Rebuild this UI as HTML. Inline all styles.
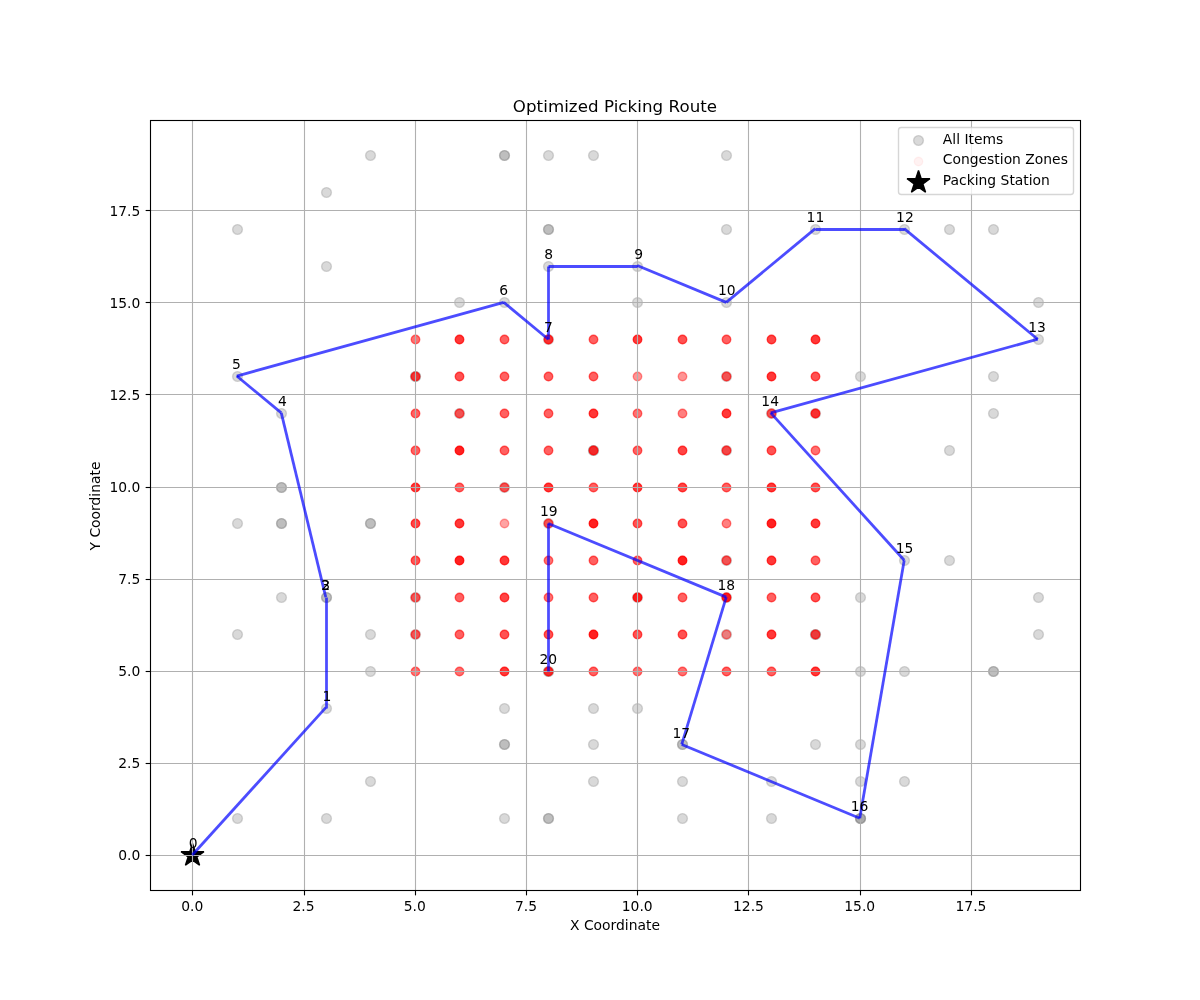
<!DOCTYPE html>
<html lang="en"><head><meta charset="utf-8"><title>Optimized Picking Route</title>
<style>html,body{margin:0;padding:0;background:#fff}svg{display:block}text{font-family:"DejaVu Sans","Liberation Sans",sans-serif;fill:#000}.t10{font-size:13.889px}.t12{font-size:16.667px}.g circle{fill:#808080;fill-opacity:.3;stroke:#808080;stroke-opacity:.3;stroke-width:1.389}.r circle{fill:#f00;stroke:#f00;stroke-width:1.389}.grid path{stroke:#b0b0b0;stroke-width:1.111;fill:none}.tk path{stroke:#000;stroke-width:1.111;fill:none}.mid{text-anchor:middle}.end{text-anchor:end}</style></head><body>
<svg width="1200" height="1000" viewBox="0 0 1200 1000">
<rect width="1200" height="1000" fill="#fff"/>
<defs><clipPath id="ax"><rect x="150" y="120" width="930" height="770"/></clipPath></defs>
<g clip-path="url(#ax)">
<g class="g">
<circle cx="370.5" cy="155.5" r="4.91"/>
<circle cx="504.5" cy="155.5" r="4.91"/>
<circle cx="504.5" cy="155.5" r="4.91"/>
<circle cx="548.5" cy="155.5" r="4.91"/>
<circle cx="593.5" cy="155.5" r="4.91"/>
<circle cx="726.5" cy="155.5" r="4.91"/>
<circle cx="326.5" cy="192.5" r="4.91"/>
<circle cx="237.5" cy="229.5" r="4.91"/>
<circle cx="548.5" cy="229.5" r="4.91"/>
<circle cx="548.5" cy="229.5" r="4.91"/>
<circle cx="726.5" cy="229.5" r="4.91"/>
<circle cx="815.5" cy="229.5" r="4.91"/>
<circle cx="904.5" cy="229.5" r="4.91"/>
<circle cx="949.5" cy="229.5" r="4.91"/>
<circle cx="993.5" cy="229.5" r="4.91"/>
<circle cx="326.5" cy="266.5" r="4.91"/>
<circle cx="548.5" cy="266.5" r="4.91"/>
<circle cx="637.5" cy="266.5" r="4.91"/>
<circle cx="459.5" cy="302.5" r="4.91"/>
<circle cx="504.5" cy="302.5" r="4.91"/>
<circle cx="637.5" cy="302.5" r="4.91"/>
<circle cx="726.5" cy="302.5" r="4.91"/>
<circle cx="1038.5" cy="302.5" r="4.91"/>
<circle cx="1038.5" cy="339.5" r="4.91"/>
<circle cx="237.5" cy="376.5" r="4.91"/>
<circle cx="860.5" cy="376.5" r="4.91"/>
<circle cx="993.5" cy="376.5" r="4.91"/>
<circle cx="281.5" cy="413.5" r="4.91"/>
<circle cx="993.5" cy="413.5" r="4.91"/>
<circle cx="949.5" cy="450.5" r="4.91"/>
<circle cx="281.5" cy="487.5" r="4.91"/>
<circle cx="281.5" cy="487.5" r="4.91"/>
<circle cx="237.5" cy="523.5" r="4.91"/>
<circle cx="281.5" cy="523.5" r="4.91"/>
<circle cx="281.5" cy="523.5" r="4.91"/>
<circle cx="370.5" cy="523.5" r="4.91"/>
<circle cx="370.5" cy="523.5" r="4.91"/>
<circle cx="904.5" cy="560.5" r="4.91"/>
<circle cx="949.5" cy="560.5" r="4.91"/>
<circle cx="281.5" cy="597.5" r="4.91"/>
<circle cx="326.5" cy="597.5" r="4.91"/>
<circle cx="326.5" cy="597.5" r="4.91"/>
<circle cx="860.5" cy="597.5" r="4.91"/>
<circle cx="1038.5" cy="597.5" r="4.91"/>
<circle cx="237.5" cy="634.5" r="4.91"/>
<circle cx="370.5" cy="634.5" r="4.91"/>
<circle cx="1038.5" cy="634.5" r="4.91"/>
<circle cx="370.5" cy="671.5" r="4.91"/>
<circle cx="860.5" cy="671.5" r="4.91"/>
<circle cx="904.5" cy="671.5" r="4.91"/>
<circle cx="993.5" cy="671.5" r="4.91"/>
<circle cx="993.5" cy="671.5" r="4.91"/>
<circle cx="326.5" cy="708.5" r="4.91"/>
<circle cx="504.5" cy="708.5" r="4.91"/>
<circle cx="593.5" cy="708.5" r="4.91"/>
<circle cx="637.5" cy="708.5" r="4.91"/>
<circle cx="504.5" cy="744.5" r="4.91"/>
<circle cx="504.5" cy="744.5" r="4.91"/>
<circle cx="593.5" cy="744.5" r="4.91"/>
<circle cx="682.5" cy="744.5" r="4.91"/>
<circle cx="682.5" cy="744.5" r="4.91"/>
<circle cx="815.5" cy="744.5" r="4.91"/>
<circle cx="860.5" cy="744.5" r="4.91"/>
<circle cx="370.5" cy="781.5" r="4.91"/>
<circle cx="593.5" cy="781.5" r="4.91"/>
<circle cx="682.5" cy="781.5" r="4.91"/>
<circle cx="771.5" cy="781.5" r="4.91"/>
<circle cx="860.5" cy="781.5" r="4.91"/>
<circle cx="904.5" cy="781.5" r="4.91"/>
<circle cx="237.5" cy="818.5" r="4.91"/>
<circle cx="326.5" cy="818.5" r="4.91"/>
<circle cx="504.5" cy="818.5" r="4.91"/>
<circle cx="548.5" cy="818.5" r="4.91"/>
<circle cx="548.5" cy="818.5" r="4.91"/>
<circle cx="682.5" cy="818.5" r="4.91"/>
<circle cx="771.5" cy="818.5" r="4.91"/>
<circle cx="860.5" cy="818.5" r="4.91"/>
<circle cx="860.5" cy="818.5" r="4.91"/>
<circle cx="860.5" cy="818.5" r="4.91"/>
<circle cx="815.5" cy="634.5" r="4.91"/>
<circle cx="548.5" cy="671.5" r="4.91"/>
<circle cx="593.5" cy="450.5" r="4.91"/>
<circle cx="415.5" cy="376.5" r="4.91"/>
<circle cx="548.5" cy="339.5" r="4.91"/>
<circle cx="415.5" cy="376.5" r="4.91"/>
<circle cx="726.5" cy="376.5" r="4.91"/>
<circle cx="459.5" cy="413.5" r="4.91"/>
<circle cx="771.5" cy="413.5" r="4.91"/>
<circle cx="815.5" cy="413.5" r="4.91"/>
<circle cx="593.5" cy="450.5" r="4.91"/>
<circle cx="726.5" cy="450.5" r="4.91"/>
<circle cx="504.5" cy="487.5" r="4.91"/>
<circle cx="548.5" cy="523.5" r="4.91"/>
<circle cx="726.5" cy="560.5" r="4.91"/>
<circle cx="415.5" cy="597.5" r="4.91"/>
<circle cx="637.5" cy="597.5" r="4.91"/>
<circle cx="726.5" cy="597.5" r="4.91"/>
<circle cx="415.5" cy="634.5" r="4.91"/>
<circle cx="726.5" cy="634.5" r="4.91"/>
<circle cx="815.5" cy="634.5" r="4.91"/>
<circle cx="548.5" cy="671.5" r="4.91"/>
</g>
<g class="r">
<circle cx="415.5" cy="339.5" r="4.22" fill-opacity="0.56" stroke-opacity="0.56"/>
<circle cx="459.5" cy="339.5" r="4.22" fill-opacity="0.78" stroke-opacity="0.78"/>
<circle cx="504.5" cy="339.5" r="4.22" fill-opacity="0.62" stroke-opacity="0.62"/>
<circle cx="548.5" cy="339.5" r="4.22" fill-opacity="0.78" stroke-opacity="0.78"/>
<circle cx="593.5" cy="339.5" r="4.22" fill-opacity="0.62" stroke-opacity="0.62"/>
<circle cx="637.5" cy="339.5" r="4.22" fill-opacity="0.78" stroke-opacity="0.78"/>
<circle cx="682.5" cy="339.5" r="4.22" fill-opacity="0.68" stroke-opacity="0.68"/>
<circle cx="726.5" cy="339.5" r="4.22" fill-opacity="0.62" stroke-opacity="0.62"/>
<circle cx="771.5" cy="339.5" r="4.22" fill-opacity="0.73" stroke-opacity="0.73"/>
<circle cx="815.5" cy="339.5" r="4.22" fill-opacity="0.78" stroke-opacity="0.78"/>
<circle cx="415.5" cy="376.5" r="4.22" fill-opacity="0.73" stroke-opacity="0.73"/>
<circle cx="459.5" cy="376.5" r="4.22" fill-opacity="0.68" stroke-opacity="0.68"/>
<circle cx="504.5" cy="376.5" r="4.22" fill-opacity="0.62" stroke-opacity="0.62"/>
<circle cx="548.5" cy="376.5" r="4.22" fill-opacity="0.62" stroke-opacity="0.62"/>
<circle cx="593.5" cy="376.5" r="4.22" fill-opacity="0.62" stroke-opacity="0.62"/>
<circle cx="637.5" cy="376.5" r="4.22" fill-opacity="0.42" stroke-opacity="0.42"/>
<circle cx="682.5" cy="376.5" r="4.22" fill-opacity="0.42" stroke-opacity="0.42"/>
<circle cx="726.5" cy="376.5" r="4.22" fill-opacity="0.62" stroke-opacity="0.62"/>
<circle cx="771.5" cy="376.5" r="4.22" fill-opacity="0.78" stroke-opacity="0.78"/>
<circle cx="815.5" cy="376.5" r="4.22" fill-opacity="0.68" stroke-opacity="0.68"/>
<circle cx="415.5" cy="413.5" r="4.22" fill-opacity="0.62" stroke-opacity="0.62"/>
<circle cx="459.5" cy="413.5" r="4.22" fill-opacity="0.62" stroke-opacity="0.62"/>
<circle cx="504.5" cy="413.5" r="4.22" fill-opacity="0.62" stroke-opacity="0.62"/>
<circle cx="548.5" cy="413.5" r="4.22" fill-opacity="0.62" stroke-opacity="0.62"/>
<circle cx="593.5" cy="413.5" r="4.22" fill-opacity="0.78" stroke-opacity="0.78"/>
<circle cx="637.5" cy="413.5" r="4.22" fill-opacity="0.56" stroke-opacity="0.56"/>
<circle cx="682.5" cy="413.5" r="4.22" fill-opacity="0.5" stroke-opacity="0.5"/>
<circle cx="726.5" cy="413.5" r="4.22" fill-opacity="0.78" stroke-opacity="0.78"/>
<circle cx="771.5" cy="413.5" r="4.22" fill-opacity="0.62" stroke-opacity="0.62"/>
<circle cx="815.5" cy="413.5" r="4.22" fill-opacity="0.78" stroke-opacity="0.78"/>
<circle cx="415.5" cy="450.5" r="4.22" fill-opacity="0.62" stroke-opacity="0.62"/>
<circle cx="459.5" cy="450.5" r="4.22" fill-opacity="0.87" stroke-opacity="0.87"/>
<circle cx="504.5" cy="450.5" r="4.22" fill-opacity="0.62" stroke-opacity="0.62"/>
<circle cx="548.5" cy="450.5" r="4.22" fill-opacity="0.62" stroke-opacity="0.62"/>
<circle cx="593.5" cy="450.5" r="4.22" fill-opacity="0.78" stroke-opacity="0.78"/>
<circle cx="637.5" cy="450.5" r="4.22" fill-opacity="0.62" stroke-opacity="0.62"/>
<circle cx="682.5" cy="450.5" r="4.22" fill-opacity="0.73" stroke-opacity="0.73"/>
<circle cx="726.5" cy="450.5" r="4.22" fill-opacity="0.68" stroke-opacity="0.68"/>
<circle cx="771.5" cy="450.5" r="4.22" fill-opacity="0.68" stroke-opacity="0.68"/>
<circle cx="815.5" cy="450.5" r="4.22" fill-opacity="0.56" stroke-opacity="0.56"/>
<circle cx="415.5" cy="487.5" r="4.22" fill-opacity="0.78" stroke-opacity="0.78"/>
<circle cx="459.5" cy="487.5" r="4.22" fill-opacity="0.62" stroke-opacity="0.62"/>
<circle cx="504.5" cy="487.5" r="4.22" fill-opacity="0.62" stroke-opacity="0.62"/>
<circle cx="548.5" cy="487.5" r="4.22" fill-opacity="0.78" stroke-opacity="0.78"/>
<circle cx="593.5" cy="487.5" r="4.22" fill-opacity="0.62" stroke-opacity="0.62"/>
<circle cx="637.5" cy="487.5" r="4.22" fill-opacity="0.78" stroke-opacity="0.78"/>
<circle cx="682.5" cy="487.5" r="4.22" fill-opacity="0.73" stroke-opacity="0.73"/>
<circle cx="726.5" cy="487.5" r="4.22" fill-opacity="0.62" stroke-opacity="0.62"/>
<circle cx="771.5" cy="487.5" r="4.22" fill-opacity="0.78" stroke-opacity="0.78"/>
<circle cx="815.5" cy="487.5" r="4.22" fill-opacity="0.68" stroke-opacity="0.68"/>
<circle cx="415.5" cy="523.5" r="4.22" fill-opacity="0.73" stroke-opacity="0.73"/>
<circle cx="459.5" cy="523.5" r="4.22" fill-opacity="0.78" stroke-opacity="0.78"/>
<circle cx="504.5" cy="523.5" r="4.22" fill-opacity="0.36" stroke-opacity="0.36"/>
<circle cx="548.5" cy="523.5" r="4.22" fill-opacity="0.62" stroke-opacity="0.62"/>
<circle cx="593.5" cy="523.5" r="4.22" fill-opacity="0.87" stroke-opacity="0.87"/>
<circle cx="637.5" cy="523.5" r="4.22" fill-opacity="0.68" stroke-opacity="0.68"/>
<circle cx="682.5" cy="523.5" r="4.22" fill-opacity="0.68" stroke-opacity="0.68"/>
<circle cx="726.5" cy="523.5" r="4.22" fill-opacity="0.5" stroke-opacity="0.5"/>
<circle cx="771.5" cy="523.5" r="4.22" fill-opacity="0.87" stroke-opacity="0.87"/>
<circle cx="815.5" cy="523.5" r="4.22" fill-opacity="0.78" stroke-opacity="0.78"/>
<circle cx="415.5" cy="560.5" r="4.22" fill-opacity="0.68" stroke-opacity="0.68"/>
<circle cx="459.5" cy="560.5" r="4.22" fill-opacity="0.87" stroke-opacity="0.87"/>
<circle cx="504.5" cy="560.5" r="4.22" fill-opacity="0.78" stroke-opacity="0.78"/>
<circle cx="548.5" cy="560.5" r="4.22" fill-opacity="0.56" stroke-opacity="0.56"/>
<circle cx="593.5" cy="560.5" r="4.22" fill-opacity="0.62" stroke-opacity="0.62"/>
<circle cx="637.5" cy="560.5" r="4.22" fill-opacity="0.62" stroke-opacity="0.62"/>
<circle cx="682.5" cy="560.5" r="4.22" fill-opacity="0.87" stroke-opacity="0.87"/>
<circle cx="726.5" cy="560.5" r="4.22" fill-opacity="0.62" stroke-opacity="0.62"/>
<circle cx="771.5" cy="560.5" r="4.22" fill-opacity="0.78" stroke-opacity="0.78"/>
<circle cx="815.5" cy="560.5" r="4.22" fill-opacity="0.62" stroke-opacity="0.62"/>
<circle cx="415.5" cy="597.5" r="4.22" fill-opacity="0.62" stroke-opacity="0.62"/>
<circle cx="459.5" cy="597.5" r="4.22" fill-opacity="0.62" stroke-opacity="0.62"/>
<circle cx="504.5" cy="597.5" r="4.22" fill-opacity="0.73" stroke-opacity="0.73"/>
<circle cx="548.5" cy="597.5" r="4.22" fill-opacity="0.56" stroke-opacity="0.56"/>
<circle cx="593.5" cy="597.5" r="4.22" fill-opacity="0.62" stroke-opacity="0.62"/>
<circle cx="637.5" cy="597.5" r="4.22" fill-opacity="0.87" stroke-opacity="0.87"/>
<circle cx="682.5" cy="597.5" r="4.22" fill-opacity="0.62" stroke-opacity="0.62"/>
<circle cx="726.5" cy="597.5" r="4.22" fill-opacity="0.87" stroke-opacity="0.87"/>
<circle cx="771.5" cy="597.5" r="4.22" fill-opacity="0.62" stroke-opacity="0.62"/>
<circle cx="815.5" cy="597.5" r="4.22" fill-opacity="0.68" stroke-opacity="0.68"/>
<circle cx="415.5" cy="634.5" r="4.22" fill-opacity="0.62" stroke-opacity="0.62"/>
<circle cx="459.5" cy="634.5" r="4.22" fill-opacity="0.62" stroke-opacity="0.62"/>
<circle cx="504.5" cy="634.5" r="4.22" fill-opacity="0.68" stroke-opacity="0.68"/>
<circle cx="548.5" cy="634.5" r="4.22" fill-opacity="0.68" stroke-opacity="0.68"/>
<circle cx="593.5" cy="634.5" r="4.22" fill-opacity="0.87" stroke-opacity="0.87"/>
<circle cx="637.5" cy="634.5" r="4.22" fill-opacity="0.68" stroke-opacity="0.68"/>
<circle cx="682.5" cy="634.5" r="4.22" fill-opacity="0.68" stroke-opacity="0.68"/>
<circle cx="726.5" cy="634.5" r="4.22" fill-opacity="0.42" stroke-opacity="0.42"/>
<circle cx="771.5" cy="634.5" r="4.22" fill-opacity="0.78" stroke-opacity="0.78"/>
<circle cx="815.5" cy="634.5" r="4.22" fill-opacity="0.68" stroke-opacity="0.68"/>
<circle cx="415.5" cy="671.5" r="4.22" fill-opacity="0.56" stroke-opacity="0.56"/>
<circle cx="459.5" cy="671.5" r="4.22" fill-opacity="0.56" stroke-opacity="0.56"/>
<circle cx="504.5" cy="671.5" r="4.22" fill-opacity="0.78" stroke-opacity="0.78"/>
<circle cx="548.5" cy="671.5" r="4.22" fill-opacity="0.78" stroke-opacity="0.78"/>
<circle cx="593.5" cy="671.5" r="4.22" fill-opacity="0.62" stroke-opacity="0.62"/>
<circle cx="637.5" cy="671.5" r="4.22" fill-opacity="0.56" stroke-opacity="0.56"/>
<circle cx="682.5" cy="671.5" r="4.22" fill-opacity="0.56" stroke-opacity="0.56"/>
<circle cx="726.5" cy="671.5" r="4.22" fill-opacity="0.62" stroke-opacity="0.62"/>
<circle cx="771.5" cy="671.5" r="4.22" fill-opacity="0.62" stroke-opacity="0.62"/>
<circle cx="815.5" cy="671.5" r="4.22" fill-opacity="0.78" stroke-opacity="0.78"/>
</g>
<polygon points="192.5,843.47 189.8,851.78 181.06,851.78 188.13,856.92 185.43,865.23 192.5,860.09 199.57,865.23 196.87,856.92 203.94,851.78 195.2,851.78" fill="#000" stroke="#000" stroke-width="1.389" stroke-linejoin="bevel"/>
<g class="grid">
<path d="M192.5 120V890"/>
<path d="M304.5 120V890"/>
<path d="M415.5 120V890"/>
<path d="M526.5 120V890"/>
<path d="M637.5 120V890"/>
<path d="M748.5 120V890"/>
<path d="M860.5 120V890"/>
<path d="M971.5 120V890"/>
<path d="M150 855.5H1080"/>
<path d="M150 763.5H1080"/>
<path d="M150 671.5H1080"/>
<path d="M150 579.5H1080"/>
<path d="M150 487.5H1080"/>
<path d="M150 394.5H1080"/>
<path d="M150 302.5H1080"/>
<path d="M150 210.5H1080"/>
</g>
<g fill="none" stroke="#00f" stroke-opacity=".7" stroke-width="2.778">
<path d="M192.27 855L325.77 707.63"/>
<path d="M326.5 708.5L326.5 597.5"/>
<path d="M325.77 597.11L281.27 412.89"/>
<path d="M281.27 412.89L236.77 376.05"/>
<path d="M236.77 376.05L503.76 302.37"/>
<path d="M503.76 302.37L548.25 339.21"/>
<path d="M548.5 339.5L548.5 266.5"/>
<path d="M548.5 266.5L637.5 266.5"/>
<path d="M637.25 265.53L726.24 302.37"/>
<path d="M726.24 302.37L815.24 228.68"/>
<path d="M815.5 229.5L904.5 229.5"/>
<path d="M904.23 228.68L1037.73 339.21"/>
<path d="M1037.73 339.21L770.74 412.89"/>
<path d="M770.74 412.89L904.23 560.26"/>
<path d="M904.23 560.26L859.74 818.16"/>
<path d="M859.74 818.16L681.75 744.47"/>
<path d="M681.75 744.47L726.24 597.11"/>
<path d="M726.24 597.11L548.25 523.42"/>
<path d="M548.5 523.5L548.5 671.5"/>
</g>
</g>
<g class="tk">
<path d="M192.5 890.5v4.86"/>
<path d="M304.5 890.5v4.86"/>
<path d="M415.5 890.5v4.86"/>
<path d="M526.5 890.5v4.86"/>
<path d="M637.5 890.5v4.86"/>
<path d="M748.5 890.5v4.86"/>
<path d="M860.5 890.5v4.86"/>
<path d="M971.5 890.5v4.86"/>
<path d="M150.5 855.5h-4.86"/>
<path d="M150.5 763.5h-4.86"/>
<path d="M150.5 671.5h-4.86"/>
<path d="M150.5 579.5h-4.86"/>
<path d="M150.5 487.5h-4.86"/>
<path d="M150.5 394.5h-4.86"/>
<path d="M150.5 302.5h-4.86"/>
<path d="M150.5 210.5h-4.86"/>
</g>
<rect x="150.5" y="120.5" width="930" height="770" fill="none" stroke="#000" stroke-width="1.111"/>
<g class="t10 mid">
<text x="192.27" y="910.9">0.0</text>
<text x="303.52" y="910.9">2.5</text>
<text x="414.76" y="910.9">5.0</text>
<text x="526" y="910.9">7.5</text>
<text x="637.25" y="910.9">10.0</text>
<text x="748.49" y="910.9">12.5</text>
<text x="859.74" y="910.9">15.0</text>
<text x="970.98" y="910.9">17.5</text>
</g>
<g class="t10 end">
<text x="140.3" y="860.28">0.0</text>
<text x="140.3" y="768.17">2.5</text>
<text x="140.3" y="676.07">5.0</text>
<text x="140.3" y="583.96">7.5</text>
<text x="140.3" y="491.86">10.0</text>
<text x="140.3" y="399.75">12.5</text>
<text x="140.3" y="307.65">15.0</text>
<text x="140.3" y="215.54">17.5</text>
</g>
<g class="t10 mid">
<text x="193.27" y="848.06">0</text>
<text x="326.82" y="700.69">1</text>
<text x="325.77" y="590.16">2</text>
<text x="325.77" y="590.16">3</text>
<text x="282.41" y="405.95">4</text>
<text x="236.38" y="369.11">5</text>
<text x="503.6" y="295.42">6</text>
<text x="548.48" y="332.27">7</text>
<text x="548.72" y="258.58">8</text>
<text x="638.69" y="258.58">9</text>
<text x="726.74" y="295.42">10</text>
<text x="815.44" y="221.74">11</text>
<text x="904.92" y="221.74">12</text>
<text x="1037.11" y="332.27">13</text>
<text x="770.15" y="405.95">14</text>
<text x="904.63" y="553.32">15</text>
<text x="859.54" y="811.21">16</text>
<text x="681.34" y="737.53">17</text>
<text x="726.24" y="590.16">18</text>
<text x="548.76" y="516.48">19</text>
<text x="548.39" y="663.85">20</text>
</g>
<text class="t12 mid" x="615" y="111.67" letter-spacing=".055">Optimized Picking Route</text>
<text class="t10 mid" x="615" y="930">X Coordinate</text>
<text class="t10 mid" transform="translate(100.3 506) rotate(-90)">Y Coordinate</text>
<rect x="898.5" y="127.5" width="175" height="67" rx="2.78" ry="2.78" fill="#fff" fill-opacity=".8" stroke="#ccc" stroke-opacity=".8" stroke-width="1.389"/>
<g class="g"><circle cx="918.5" cy="140.5" r="4.91"/></g>
<g class="r"><circle cx="918.5" cy="161.5" r="4.22" fill-opacity=".05" stroke-opacity=".05"/></g>
<polygon points="918.5,170.47 915.8,178.78 907.06,178.78 914.13,183.92 911.43,192.23 918.5,187.09 925.57,192.23 922.87,183.92 929.94,178.78 921.2,178.78" fill="#000" stroke="#000" stroke-width="1.389" stroke-linejoin="bevel"/>
<g class="t10">
<text x="942.8" y="144">All Items</text>
<text x="942.8" y="164">Congestion Zones</text>
<text x="942.8" y="185">Packing Station</text>
</g>
</svg></body></html>
